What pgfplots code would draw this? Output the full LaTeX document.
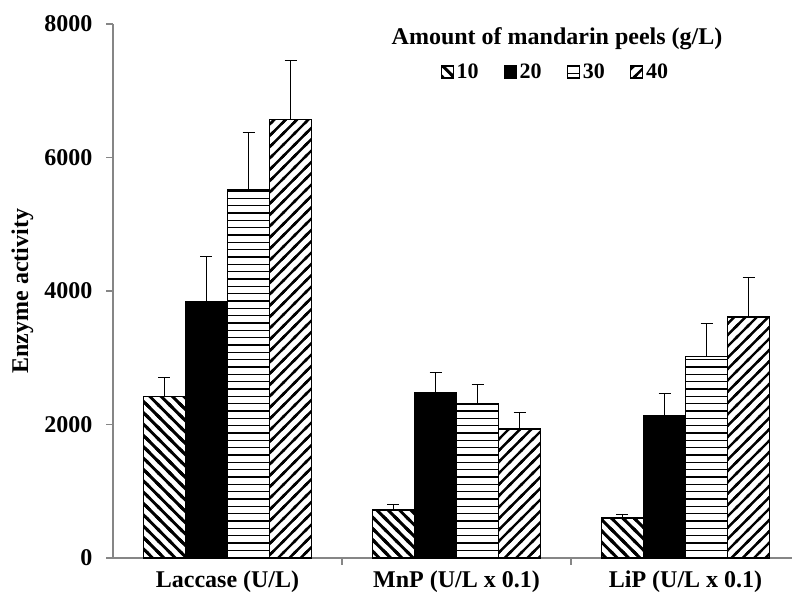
\documentclass[border=0pt]{standalone}
\usepackage{fontspec}
\setmainfont{Liberation Serif}
\usepackage{pgfplots}
\usepackage{pgfplotstable}
\pgfplotsset{compat=1.18}
\usetikzlibrary{patterns}
\pgfplotstableread{
x v10 e10 v20 e20 v30 e30 v40 e40
0 2420 290 3840 680 5520 860 6570 890
1 720 80 2470 310 2310 285 1930 255
2 600 60 2130 330 3020 500 3610 600
}\data
\definecolor{axgray}{RGB}{134,134,134}
% custom hatch patterns with overlapping tiles (no seams)
\pgfdeclarepatternformonly{myhl}{\pgfpoint{-0.5pt}{-0.5pt}}{\pgfpoint{10.5pt}{6pt}}{\pgfpoint{10pt}{5.5pt}}{%
  \pgfsetlinewidth{1.2pt}%
  \pgfpathmoveto{\pgfpoint{-1pt}{2.75pt}}\pgfpathlineto{\pgfpoint{11pt}{2.75pt}}\pgfusepath{stroke}}
\pgfdeclarepatternformonly{myne}{\pgfpoint{-1pt}{-1pt}}{\pgfpoint{9.5pt}{9.5pt}}{\pgfpoint{8.5pt}{8.5pt}}{%
  \pgfsetlinewidth{1.8pt}%
  \pgfpathmoveto{\pgfpoint{-2pt}{-2pt}}\pgfpathlineto{\pgfpoint{10.5pt}{10.5pt}}%
  \pgfpathmoveto{\pgfpoint{-2pt}{6.5pt}}\pgfpathlineto{\pgfpoint{2pt}{10.5pt}}%
  \pgfpathmoveto{\pgfpoint{6.5pt}{-2pt}}\pgfpathlineto{\pgfpoint{10.5pt}{2pt}}%
  \pgfusepath{stroke}}
\pgfdeclarepatternformonly{mynw}{\pgfpoint{-1pt}{-1pt}}{\pgfpoint{9.5pt}{9.5pt}}{\pgfpoint{8.5pt}{8.5pt}}{%
  \pgfsetlinewidth{2.2pt}%
  \pgfpathmoveto{\pgfpoint{-2pt}{10.5pt}}\pgfpathlineto{\pgfpoint{10.5pt}{-2pt}}%
  \pgfpathmoveto{\pgfpoint{-2pt}{2pt}}\pgfpathlineto{\pgfpoint{2pt}{-2pt}}%
  \pgfpathmoveto{\pgfpoint{6.5pt}{10.5pt}}\pgfpathlineto{\pgfpoint{10.5pt}{6.5pt}}%
  \pgfusepath{stroke}}
\newcommand{\bigf}{\bfseries\fontsize{18}{21}\selectfont}
\begin{document}
\begin{tikzpicture}
\useasboundingbox (-84.75pt,-30pt) rectangle (509.25pt,418.5pt);
\begin{axis}[
  scale only axis,
  width=509.25pt, height=400.5pt,
  ybar=0pt, bar width=0.1835,
  xmin=-0.5, xmax=2.465,
  ymin=0, ymax=8000,
  axis x line=bottom, axis y line=left,
  axis line style={axgray, line width=0.9pt, -},
  xtick={0,1,2},
  xticklabels={Laccase (U/L), MnP (U/L x 0.1), LiP (U/L x 0.1)},
  minor xtick={0.5,1.5},
  ytick={0,2000,4000,6000,8000},
  tick align=outside,
  x tick style={draw=none},
  minor x tick style={draw=axgray, line width=0.9pt},
  minor tick length=5pt,
  y tick style={draw=axgray, line width=0.9pt},
  major tick length=5pt,
  xticklabel style={font=\bigf, anchor=base, yshift=-17pt},
  yticklabel style={font=\bigf, xshift=-7pt},
  /pgf/number format/assume math mode=true,
  /pgf/number format/1000 sep={},
  scaled y ticks=false,
  legend columns=4,
  legend style={at={(0.652,0.910)}, anchor=center, draw=none, fill=none,
    font=\bfseries\fontsize{16.5}{19}\selectfont,
    nodes={inner xsep=2pt},
    /tikz/every even column/.append style={column sep=17pt}},
  legend image code/.code={\draw[#1, line width=0.9pt] (0pt,-4.5pt) rectangle (9pt,4.5pt);},
  every axis plot/.append style={draw=black, line width=1.2pt,
    error bars/y dir=plus, error bars/y explicit,
    error bars/error bar style={line width=0.6pt, black},
    error bars/error mark options={line width=0.6pt, black, mark size=4.5pt, rotate=90}},
  clip=false,
]
\addplot[pattern=mynw] table[x=x, y=v10, y error=e10] {\data};
\addplot[fill=black] table[x=x, y=v20, y error=e20] {\data};
\addplot[pattern=myhl] table[x=x, y=v30, y error=e30] {\data};
\addplot[pattern=myne] table[x=x, y=v40, y error=e40] {\data};
\legend{10,20,30,40}
\node[font=\bigf, anchor=center] at (rel axis cs:0.654,0.972) {Amount of mandarin peels (g/L)};
\end{axis}
\node[rotate=90, font=\bigf] at (-68pt,200pt) {Enzyme activity};
\end{tikzpicture}
\end{document}
